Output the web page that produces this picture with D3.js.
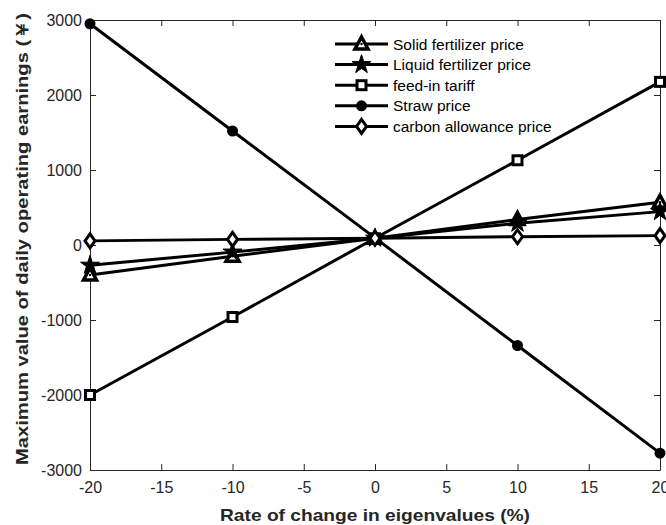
<!DOCTYPE html>
<html>
<head>
<meta charset="utf-8">
<script src="https://cdn.jsdelivr.net/npm/d3@7"></script>
<style>
  body { margin: 0; background: #fff; }
  text { font-family: "Liberation Sans", Arial, sans-serif; }
</style>
</head>
<body>
<div id="chart"></div>
<script>
const WIDTH = 666, HEIGHT = 525;
const LEFT = 90, TOP = 20, RIGHT = 6, BOTTOM = 55;

// data
const rates = [-20, -10, 0, 10, 20];
const solid = [-400, -150, 90, 340, 570];
const liquid = [-270, -95, 90, 290, 445];
const feedIn = [-2000, -960, 90, 1130, 2175];
const straw = [2950, 1520, 95, -1340, -2775];
const carbon = [55, 75, 90, 110, 125];
const seriesNames = ["Solid fertilizer price", "Liquid fertilizer price", "feed-in tariff", "Straw price", "carbon allowance price"];
const seriesValues = [solid, liquid, feedIn, straw, carbon];
const markers = ["triangle", "star", "square", "circle", "diamond"];
const xTicks = [-20, -15, -10, -5, 0, 5, 10, 15, 20];
const yTicks = [-3000, -2000, -1000, 0, 1000, 2000, 3000];

const svg = d3.select("#chart").append("svg").attr("width", WIDTH).attr("height", HEIGHT)
const w = WIDTH - LEFT - RIGHT, h = HEIGHT - TOP - BOTTOM
const g = svg.append("g").attr("transform", "translate(" + LEFT + "," + TOP + ")")

const x = d3.scaleLinear().domain([-20, 20]).range([0, w])
const y = d3.scaleLinear().domain([-3000, 3000]).range([h, 0])

const AX = "#262626"
const plain = d => String(d)

// box with inward ticks
function styleAxis(sel) {
    sel.select(".domain").attr("stroke", AX)
    sel.selectAll(".tick line").attr("stroke", AX)
    sel.selectAll("text").attr("fill", AX).attr("font-size", "16px").style("font-family", "'Liberation Sans', Arial, sans-serif")
}
const xb = g.append("g").attr("transform", "translate(0," + h + ")")
    .call(d3.axisBottom(x).tickValues(xTicks).tickFormat(plain).tickSizeInner(-6).tickSizeOuter(0).tickPadding(12))
styleAxis(xb)
const xt = g.append("g").call(d3.axisTop(x).tickValues(xTicks).tickSizeInner(-6).tickSizeOuter(0).tickFormat(""))
styleAxis(xt)
const yl = g.append("g").call(d3.axisLeft(y).tickValues(yTicks).tickFormat(plain).tickSizeInner(-6).tickSizeOuter(0).tickPadding(8))
styleAxis(yl)
const yr = g.append("g").attr("transform", "translate(" + w + ",0)")
    .call(d3.axisRight(y).tickValues(yTicks).tickSizeInner(-6).tickSizeOuter(0).tickFormat(""))
styleAxis(yr)

// axis titles
svg.append("text").attr("x", LEFT + w / 2).attr("y", 521).attr("text-anchor", "middle")
    .attr("font-size", "17px").attr("font-weight", "bold").attr("fill", AX)
    .attr("textLength", 310).attr("lengthAdjust", "spacingAndGlyphs")
    .text("Rate of change in eigenvalues (%)")
svg.append("text").attr("transform", "rotate(270)").attr("x", -(TOP + h / 2) + 6).attr("y", 28)
    .attr("text-anchor", "middle").attr("font-size", "17px").attr("font-weight", "bold").attr("fill", AX)
    .attr("textLength", 452).attr("lengthAdjust", "spacingAndGlyphs")
    .text("Maximum value of daily operating earnings (￥)")

// marker drawing
function drawMarker(sel, type) {
    if (type == "triangle") {
        sel.append("path").attr("d", "M0,-7 L6.5,5 L-6.5,5 Z").attr("fill", "#fff").attr("stroke", "#000").attr("stroke-width", 3.5)
        sel.append("circle").attr("r", 1.2).attr("fill", "#000")
    } else if (type == "star") {
        sel.append("path").attr("d", d3.symbol(d3.symbolStar, 110)()).attr("fill", "#000").attr("stroke", "#000").attr("stroke-width", 1)
    } else if (type == "square") {
        sel.append("rect").attr("x", -4.5).attr("y", -4.5).attr("width", 9).attr("height", 9)
            .attr("fill", "#fff").attr("stroke", "#000").attr("stroke-width", 3)
    } else if (type == "circle") {
        sel.append("circle").attr("r", 5.5).attr("fill", "#000")
    } else if (type == "diamond") {
        sel.append("path").attr("d", "M0,-7 L5,0 L0,7 L-5,0 Z").attr("fill", "#fff").attr("stroke", "#000").attr("stroke-width", 3)
    }
}

const line = d3.line().x((d, i) => x(rates[i])).y(d => y(d))

seriesValues.forEach((vals, k) => {
    g.append("path").datum(vals).attr("d", line).attr("fill", "none").attr("stroke", "#000").attr("stroke-width", 3)
})
seriesValues.forEach((vals, k) => {
    vals.forEach((v, i) => {
        const m = g.append("g").attr("transform", "translate(" + x(rates[i]) + "," + y(v) + ")")
        drawMarker(m, markers[k])
    })
})

// legend
const legend = svg.append("g").attr("transform", "translate(335,44)")
seriesNames.forEach((name, i) => {
    const row = legend.append("g").attr("transform", "translate(0," + (i * 20.6) + ")")
    row.append("line").attr("x1", 0).attr("x2", 53).attr("stroke", "#000").attr("stroke-width", 3)
    const m = row.append("g").attr("transform", "translate(26.5,0)")
    drawMarker(m, markers[i])
    row.append("text").attr("x", 58).attr("y", 5.5).attr("font-size", "15.5px").attr("fill", "#000").text(name)
})
</script>
</body>
</html>
